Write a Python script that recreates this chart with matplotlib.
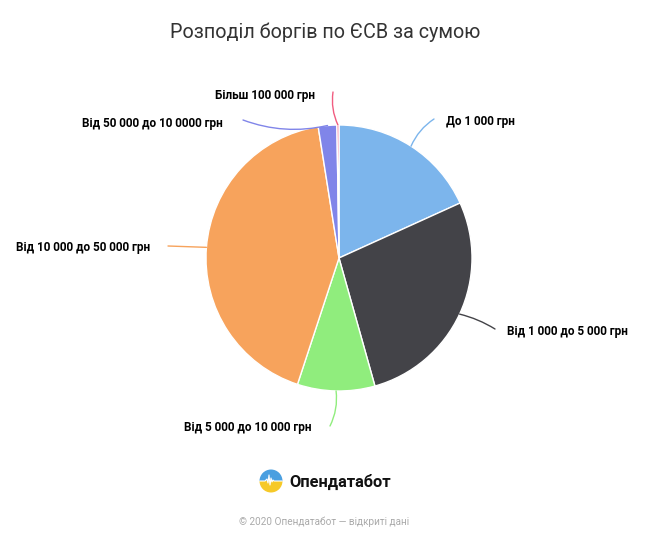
import numpy as np
import matplotlib.pyplot as plt
from matplotlib.patches import Wedge

plt.rcParams['font.family'] = ['Roboto', 'DejaVu Sans']

# Дані
categories = ['До 1 000 грн', 'Від 1 000 до 5 000 грн', 'Від 5 000 до 10 000 грн',
              'Від 10 000 до 50 000 грн', 'Від 50 000 до 10 0000 грн', 'Більш 100 000 грн']
shares = [18.2, 27.4, 9.4, 42.4, 2.25, 0.25]
colors = ['#7cb5ec', '#434348', '#90ed7d', '#f7a35c', '#8085e9', '#f15c80']

# позиції підписів (пікселі, y зверху) та вирівнювання
label_pos = [(446, 122), (507, 331), (312, 428), (150, 248), (223, 124), (315, 96)]
label_ha = ['left', 'left', 'right', 'right', 'right', 'right']
elbow = [(434, 119), (495, 329), (330, 426), (168, 246), (243, 120), (333, 92)]
curve = [0.15, 0.08, 0.15, 0.0, 0.15, 0.15]

W, H = 650, 542
fig = plt.figure(figsize=(6.5, 5.42), dpi=100)
ax = fig.add_axes([0, 0, 1, 1])

cx, cy, r = 339, H - 258, 133

wedges, _ = ax.pie(shares, colors=colors, startangle=90, counterclock=False,
                   center=(cx, cy), radius=r, frame=True,
                   wedgeprops=dict(edgecolor='white', linewidth=1))
ax.set_xlim(0, W)
ax.set_ylim(0, H)
ax.set_aspect('equal')
ax.axis('off')

# підписи з лініями-виносками
for w, name, col, (lx, ly), ha, (ex, ey), rad in zip(wedges, categories, colors,
                                                       label_pos, label_ha, elbow, curve):
    mid = np.deg2rad((w.theta1 + w.theta2) / 2)
    sx, sy = cx + r * np.cos(mid), cy + r * np.sin(mid)
    ax.annotate('', xy=(sx, sy), xytext=(ex, H - ey),
                arrowprops=dict(arrowstyle='-', color=col, lw=1,
                                shrinkA=0, shrinkB=0,
                                connectionstyle=f'arc3,rad={rad}'))
    ax.text(lx, H - ly, name, ha=ha, va='center', fontsize=8.5,
            fontweight='bold', color='black')

ax.text(W / 2, H - 32, 'Розподіл боргів по ЄСВ за сумою', ha='center', va='center',
        fontsize=14.2, color='#333333')

# логотип
lx0, ly0, lr = 271, H - 481, 11.5
ax.add_patch(Wedge((lx0, ly0), lr, 0, 180, facecolor='#4a9fe0', edgecolor='none'))
ax.add_patch(Wedge((lx0, ly0), lr, 180, 360, facecolor='#f6c928', edgecolor='none'))
px = np.array([-11, -6, -4, -3, -2, -1, 0, 1, 2, 3, 5, 11]) + lx0
py = np.array([0, 0, 2, -2, 6, -4, 3, -1, 1, 0, 0, 0]) + ly0
ax.plot(px, py, color='white', lw=0.8)
ax.text(289, H - 482, 'Опендатабот', ha='left', va='center', fontsize=11.8,
        fontweight='bold', color='#111111')

ax.text(W / 2 - 1, H - 522, '© 2020 Опендатабот — відкриті дані', ha='center',
        va='center', fontsize=7.2, color='#aaaaaa')

fig.savefig('out.png', dpi=100)
